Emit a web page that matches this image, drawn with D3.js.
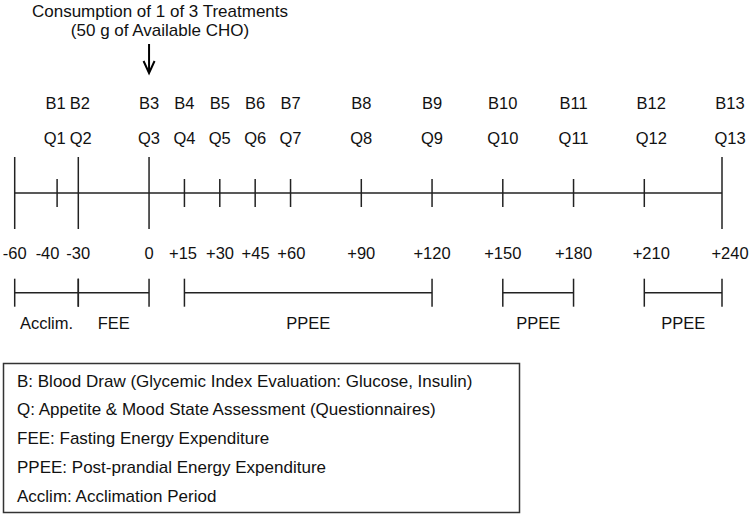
<!DOCTYPE html>
<html>
<head>
<meta charset="utf-8">
<script src="https://cdn.jsdelivr.net/npm/d3@7"></script>
<style>
  html, body { margin: 0; padding: 0; background: #fff; }
  svg { display: block; }
  text { font-family: "Liberation Sans", Arial, Helvetica, sans-serif; fill: #111; }
</style>
</head>
<body>
<svg id="chart" width="750" height="515"></svg>
<script>
// ---------- data ----------
const titleLines = ["Consumption of 1 of 3 Treatments", "(50 g of Available CHO)"];
const treatmentTime = 0;

const timepoints = [-60, -40, -30, 0, 15, 30, 45, 60, 90, 120, 150, 180, 210, 240];
const timeLabels = ["-60", "-40", "-30", "0", "+15", "+30", "+45", "+60", "+90", "+120", "+150", "+180", "+210", "+240"];
const longTickTimes = [-60, -30, 0, 240];

const sampleTimes = [-40, -30, 0, 15, 30, 45, 60, 90, 120, 150, 180, 210, 240];
const bloodLabels = ["B1", "B2", "B3", "B4", "B5", "B6", "B7", "B8", "B9", "B10", "B11", "B12", "B13"];
const questLabels = ["Q1", "Q2", "Q3", "Q4", "Q5", "Q6", "Q7", "Q8", "Q9", "Q10", "Q11", "Q12", "Q13"];

const periodLabels = ["Acclim.", "FEE", "PPEE", "PPEE", "PPEE"];
const periodStarts = [-60, -30, 15, 150, 210];
const periodEnds   = [-30, 0, 120, 180, 240];

const legendLines = [
  "B: Blood Draw (Glycemic Index Evaluation: Glucose, Insulin)",
  "Q: Appetite & Mood State Assessment (Questionnaires)",
  "FEE: Fasting Energy Expenditure",
  "PPEE: Post-prandial Energy Expenditure",
  "Acclim: Acclimation Period"
];

// ---------- layout ----------
const svg = d3.select("#chart");
const lineColor = "#222";
// time axis scale (marks)
const x = d3.scaleLinear()
  .domain([-60, -30, 210, 240])
  .range([14.7, 78.3, 644.3, 722]);
// labels drift slightly right near the end in the original
const labelDrift = d3.scaleLinear().domain([180, 210, 240]).range([0, 7, 8]).clamp(true);
const xLab = t => x(t) + labelDrift(t);

const yLine = 193;
const longHalf = 36, shortHalf = 14;

// push overlapping labels apart (right-to-left pass, anchored labels stay)
function spread(sel, minGap, isAnchored) {
  const nodes = sel.nodes();
  const w = nodes.map(n => n.getComputedTextLength());
  const cx = nodes.map(n => +n.getAttribute("x"));
  for (let i = nodes.length - 2; i >= 0; i--) {
    const gap = (cx[i + 1] - w[i + 1] / 2) - (cx[i] + w[i] / 2);
    if (gap < minGap) {
      const need = minGap - gap;
      const aL = isAnchored(i), aR = isAnchored(i + 1);
      if (!aL && aR) cx[i] -= need;
      else if (aL && !aR) cx[i + 1] += need;
      else { cx[i] -= need / 2; cx[i + 1] += need / 2; }
    }
  }
  nodes.forEach((n, i) => n.setAttribute("x", cx[i]));
}

// title
svg.append("g").selectAll("text").data(titleLines).join("text")
  .attr("x", 160).attr("y", (d, i) => 17 + i * 19)
  .attr("text-anchor", "middle")
  .style("font-size", "17px")
  .text(d => d);

// arrow
const ax = x(treatmentTime);
svg.append("line")
  .attr("x1", ax).attr("x2", ax).attr("y1", 44).attr("y2", 72)
  .attr("stroke", "#000").attr("stroke-width", 2);
svg.append("path")
  .attr("d", `M${ax - 5.5},${61} L${ax},${73} L${ax + 5.5},${61}`)
  .attr("fill", "none").attr("stroke", "#000").attr("stroke-width", 2);

// B and Q labels
const bSel = svg.append("g").selectAll("text").data(bloodLabels).join("text")
  .attr("x", (d, i) => xLab(sampleTimes[i])).attr("y", 109)
  .attr("text-anchor", "middle").style("font-size", "16.5px")
  .text(d => d);
spread(bSel, 4, () => false);
const qSel = svg.append("g").selectAll("text").data(questLabels).join("text")
  .attr("x", (d, i) => xLab(sampleTimes[i])).attr("y", 144)
  .attr("text-anchor", "middle").style("font-size", "16.5px")
  .text(d => d);
spread(qSel, 4, () => false);

// main timeline
svg.append("line")
  .attr("x1", x(timepoints[0])).attr("x2", x(timepoints[timepoints.length - 1]))
  .attr("y1", yLine).attr("y2", yLine)
  .attr("stroke", lineColor).attr("stroke-width", 1.5);

svg.append("g").selectAll("line").data(timepoints).join("line")
  .attr("x1", d => x(d)).attr("x2", d => x(d))
  .attr("y1", d => yLine - (longTickTimes.includes(d) ? longHalf : shortHalf))
  .attr("y2", d => yLine + (longTickTimes.includes(d) ? longHalf : shortHalf))
  .attr("stroke", lineColor).attr("stroke-width", 1.5);

// time labels
const tSel = svg.append("g").selectAll("text").data(timeLabels).join("text")
  .attr("x", (d, i) => xLab(timepoints[i])).attr("y", 258.5)
  .attr("text-anchor", "middle").style("font-size", "16.5px")
  .text(d => d);
spread(tSel, 9, i => longTickTimes.includes(timepoints[i]));

// periods
const yBr = 292.7, brHalf = 14;
const pg = svg.append("g");
periodLabels.forEach((lab, i) => {
  const x0 = x(periodStarts[i]), x1 = x(periodEnds[i]);
  pg.append("line").attr("x1", x0).attr("x2", x1).attr("y1", yBr).attr("y2", yBr)
    .attr("stroke", lineColor).attr("stroke-width", 1.5);
  [x0, x1].forEach(xx => pg.append("line")
    .attr("x1", xx).attr("x2", xx).attr("y1", yBr - brHalf).attr("y2", yBr + brHalf)
    .attr("stroke", lineColor).attr("stroke-width", 1.5));
  pg.append("text").attr("x", (x0 + x1) / 2).attr("y", 328.5)
    .attr("text-anchor", "middle").style("font-size", "16.5px").text(lab);
});

// legend box
svg.append("rect")
  .attr("x", 3.5).attr("y", 363.5).attr("width", 516).attr("height", 149)
  .attr("fill", "none").attr("stroke", "#333").attr("stroke-width", 1.5);
svg.append("g").selectAll("text").data(legendLines).join("text")
  .attr("x", 17).attr("y", (d, i) => 386.5 + i * 28.8)
  .style("font-size", "17px")
  .text(d => d);
</script>
</body>
</html>
